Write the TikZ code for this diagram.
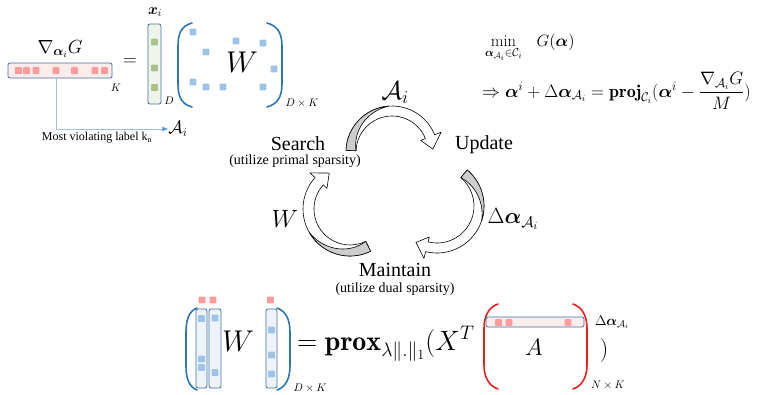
\RequirePackage{fix-cm}
\documentclass[tikz,border=0pt]{standalone}
\usepackage{amsmath,amssymb,bm}
\usepackage{fontspec}
\newfontfamily\timesfont{Liberation Serif}
\usetikzlibrary{arrows.meta}

\definecolor{parblue}{HTML}{2E75B6}
\definecolor{sqblue}{HTML}{9DC3E6}
\definecolor{sqpink}{HTML}{FF9B9B}
\definecolor{rowpink}{HTML}{FDECEC}
\definecolor{boxedge}{HTML}{41719C}
\definecolor{colgreen}{HTML}{EFF5EA}
\definecolor{sqgreen}{HTML}{A9C28D}
\definecolor{colblue}{HTML}{EEF3F9}
\definecolor{parred}{HTML}{E8201F}
\definecolor{leadline}{HTML}{A9BCD3}
\definecolor{leadtip}{HTML}{5B9BD5}
\definecolor{cyclegrey}{HTML}{CDCDCD}

% small filled square of a sparse matrix entry
\newcommand{\sqr}[3]{\fill[#3,rounded corners=0.6pt] ({#1-3.3},{#2-3.3}) rectangle ({#1+3.3},{#2+3.3});}

% curved block arrow of the cycle:
% centre x, centre y, inner radius, outer radius, start angle,
% end of the grey part, end of the band, angle of the tip
\newcommand{\cyclearrow}[8]{%
  \pgfmathsetmacro\rmid{(#3+#4)/2}%
  \draw[cycline, fill=white]
    ({#1+#4*cos(#5)},{#2+#4*sin(#5)}) arc[start angle=#5, end angle=#7, radius=#4]
    -- ({#1+(#4+7)*cos(#7)},{#2+(#4+7)*sin(#7)})
    -- ({#1+\rmid*cos(#8)},{#2+\rmid*sin(#8)})
    -- ({#1+(#3-5)*cos(#7)},{#2+(#3-5)*sin(#7)})
    -- ({#1+#3*cos(#7)},{#2+#3*sin(#7)})
    arc[start angle=#7, end angle=#5, radius=#3] -- cycle;
  \draw[cycline, fill=cyclegrey]
    ({#1+#4*cos(#5)},{#2+#4*sin(#5)}) arc[start angle=#5, end angle=#6, radius=#4]
    -- plot[variable=\t, domain=#6:#5, samples=30]
       ({#1+(#3+(#4-#3)*(\t-(#5))/((#6)-(#5)))*cos(\t)},
        {#2+(#3+(#4-#3)*(\t-(#5))/((#6)-(#5)))*sin(\t)})
    -- cycle;
}

\begin{document}
\begin{tikzpicture}[x=1pt,y=-1pt,
  lbl/.style={inner sep=0pt, outer sep=0pt},
  paren/.style={line width=1.6pt, line cap=round},
  vecbox/.style={draw=boxedge, line width=0.8pt, rounded corners=2pt},
  cycline/.style={draw=black, line width=0.6pt, line join=round},
  lead/.style={draw=leadline, line width=0.9pt, -{Latex[length=6pt,width=5pt,color=leadtip]}}
]
\useasboundingbox[fill=white] (0,0) rectangle (761,394);

% ---------- gradient row, data column and W ----------
\draw[vecbox, fill=rowpink] (8,63) rectangle (112,78);
\foreach \x in {18.5,26.5,36,56,74.5,95,104.5} {\sqr{\x}{70.5}{sqpink}}
\coordinate (kn) at (56,78);
\node[lbl] (gradlbl) at (60,49) {\fontsize{19}{22}\selectfont $\nabla_{\bm{\alpha}_i}G$};
\node[lbl] (Klbl) at (116,88) {\fontsize{11}{13}\selectfont $K$};
\node[lbl] (eqtop) at (130,62) {\fontsize{19}{22}\selectfont $=$};

\draw[vecbox, fill=colgreen] (148,24) rectangle (161,104);
\foreach \y in {42,68,87.5} {\sqr{154.5}{\y}{sqgreen}}
\node[lbl] (xilbl) at (155,12) {\fontsize{15}{17}\selectfont $\bm{x}_i$};
\node[lbl] (Dlbl) at (169,101) {\fontsize{11}{13}\selectfont $D$};

\draw[paren, parblue] (192,23) .. controls (181,26) and (178,34) .. (178,46)
  -- (178,84) .. controls (178,96) and (181,104) .. (192,107);
\draw[paren, parblue] (267,23) .. controls (278,26) and (282,34) .. (282,46)
  -- (282,84) .. controls (282,96) and (278,104) .. (267,107);
\sqr{193}{32}{sqblue}
\sqr{236}{41}{sqblue}
\sqr{263}{43}{sqblue}
\sqr{206}{52}{sqblue}
\sqr{274}{69}{sqblue}
\sqr{193}{82}{sqblue}
\sqr{206}{87}{sqblue}
\sqr{223}{87}{sqblue}
\sqr{263}{87}{sqblue}
\node[lbl] (Wtop) at (242,62) {\fontsize{30}{34}\selectfont $W$};
\node[lbl] (DKtop) at (302,103) {\fontsize{11}{13}\selectfont $D\times K$};

% most violating label
\node[lbl] (Ai) at (178,129) {\fontsize{18}{20}\selectfont $\mathcal{A}_i$};
\draw[lead] (kn) |- (Ai.west);
\node[lbl] (mvl) at (97,138) {\fontsize{12}{14}\timesfont Most violating label k\textsubscript{n}};

% ---------- projection step ----------
\node[lbl, anchor=base west] (minline) at (485,46)
  {\fontsize{16.5}{19}\selectfont $\displaystyle\min_{\bm{\alpha}_{\mathcal{A}_i}\in\mathcal{C}_i}\;\;\, G(\bm{\alpha})$};
\node[lbl, anchor=base west] (projline) at (482,97)
  {\fontsize{18}{20}\selectfont $\Rightarrow \bm{\alpha}^i + \Delta\bm{\alpha}_{\mathcal{A}_i} = \mathbf{proj}_{\mathcal{C}_i}(\bm{\alpha}^i - \dfrac{\nabla_{\mathcal{A}_i}G}{M})$};

% ---------- the cycle ----------
\cyclearrow{392}{152}{36}{46}{182}{266}{338}{356}
\cyclearrow{437}{206}{37}{47}{-50}{18}{104}{120}
\cyclearrow{350}{209}{36}{47}{64}{150}{222}{240}

\node[lbl] (Aicyc) at (395,93) {\fontsize{26}{30}\selectfont $\mathcal{A}_i$};
\node[lbl] (search) at (298,144) {\fontsize{20}{22}\timesfont Search};
\node[lbl] (searchsub) at (295,161) {\fontsize{14}{16}\timesfont (utilize primal sparsity)};
\node[lbl] (update) at (484,145) {\fontsize{20}{22}\timesfont Update};
\node[lbl] (Wcyc) at (285,219) {\fontsize{25}{28}\selectfont $W$};
\node[lbl] (dacyc) at (513,219) {\fontsize{22}{25}\selectfont $\Delta\bm{\alpha}_{\mathcal{A}_i}$};
\node[lbl] (maintain) at (395,270) {\fontsize{20}{22}\timesfont Maintain};
\node[lbl] (maintsub) at (395,289) {\fontsize{14}{16}\timesfont (utilize dual sparsity)};

% ---------- proximal step ----------
\draw[paren, parblue] (197,308) .. controls (189,311) and (186,320) .. (186,332)
  -- (186,366) .. controls (186,378) and (189,387) .. (197,390);
\draw[paren, parblue] (277,308) .. controls (286,311) and (290,320) .. (290,332)
  -- (290,366) .. controls (290,378) and (286,387) .. (277,390);
\draw[vecbox, fill=colblue] (196,309) rectangle (207,388);
\draw[vecbox, fill=colblue] (209,309) rectangle (221,388);
\draw[vecbox, fill=colblue] (266,309) rectangle (277,388);
\foreach \y in {318.5,359,367.5} {\sqr{201.5}{\y}{sqblue}}
\foreach \y in {318,372.5} {\sqr{215}{\y}{sqblue}}
\foreach \y in {330,355,374} {\sqr{271.5}{\y}{sqblue}}
\sqr{202}{300}{sqpink}
\sqr{213}{300}{sqpink}
\sqr{270.5}{300}{sqpink}
\node[lbl] (Wbot) at (238,341) {\fontsize{30}{34}\selectfont $W$};
\node[lbl] (DKbot) at (310,388) {\fontsize{11}{13}\selectfont $D\times K$};

\node[lbl, anchor=base west] (prox) at (297,350)
  {\fontsize{28}{32}\selectfont $=\mathbf{prox}_{\lambda\|.\|_1}(X^T$};

\draw[paren, parred] (498,304) .. controls (489,307) and (484,316) .. (484,328)
  -- (484,365) .. controls (484,377) and (489,386) .. (498,389);
\draw[paren, parred] (573,304) .. controls (582,307) and (587,316) .. (587,328)
  -- (587,365) .. controls (587,377) and (582,386) .. (573,389);
\draw[vecbox, fill=rowpink] (486,317) rectangle (584,327);
\foreach \x in {498.5,509,568} {\sqr{\x}{322.5}{sqpink}}
\node[lbl] (Abot) at (534,347) {\fontsize{24}{28}\selectfont $A$};
\node[lbl] (dabot) at (612,322) {\fontsize{14}{16}\selectfont $\Delta\bm{\alpha}_{\mathcal{A}_i}$};
\node[lbl] (closep) at (604,350) {\fontsize{24}{28}\selectfont $)$};
\node[lbl] (NKbot) at (608,385) {\fontsize{11}{13}\selectfont $N\times K$};
\end{tikzpicture}
\end{document}
